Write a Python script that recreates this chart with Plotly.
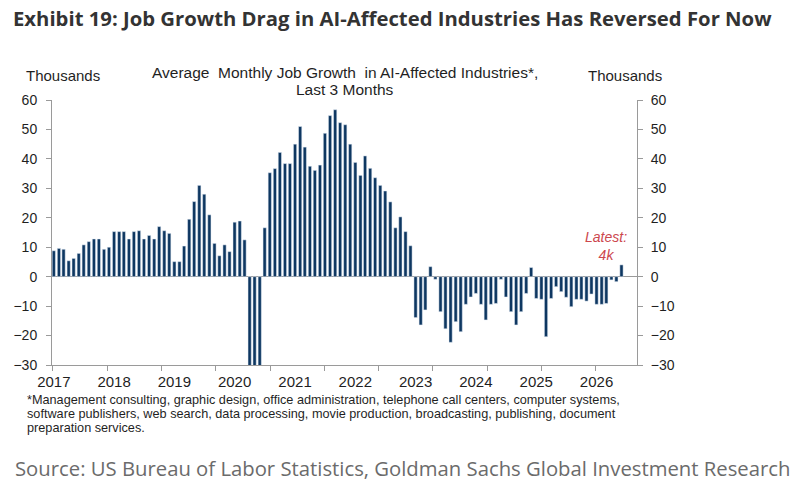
import pandas as pd
import plotly.graph_objects as go

# Average monthly job growth, last 3 months, thousands (Jan 2017 onwards)
job_growth = [
    8.8, 9.6, 9.3, 5.4, 6.2, 7.9, 10.8, 11.9, 12.8, 12.8, 9.3, 10.0,          # 2017
    15.3, 15.3, 15.3, 12.8, 15.3, 15.6, 12.8, 14.0, 12.8, 17.0, 15.6, 14.7,   # 2018
    5.1, 5.1, 10.4, 19.5, 25.5, 31.0, 28.0, 21.0, 11.3, 7.1, 10.8, 8.5,       # 2019
    18.5, 18.9, 12.5, -95.0, -75.0, -45.0, 16.6, 35.3, 36.7, 42.2, 38.4, 38.4,  # 2020
    45.0, 51.0, 44.0, 37.5, 36.1, 37.9, 48.7, 54.7, 56.7, 52.3, 51.6, 45.0,   # 2021
    38.8, 34.4, 41.0, 36.8, 33.6, 31.0, 29.1, 25.4, 16.6, 20.3, 15.3, 10.5,   # 2022
    -13.9, -16.4, -11.3, 3.4, -0.9, -11.9, -17.7, -22.3, -15.3, -18.7, -9.4, -6.9,  # 2023
    -5.7, -9.4, -14.7, -9.4, -9.1, -0.9, -6.9, -11.9, -16.4, -11.9, -5.7, 3.1,      # 2024
    -7.4, -7.7, -20.4, -7.4, -3.4, -5.1, -7.0, -10.2, -7.7, -7.7, -8.3, -5.9,       # 2025
    -9.4, -9.4, -9.1, -1.1, -1.7, 4.0,                                              # 2026
]
months = pd.date_range("2017-01-01", periods=len(job_growth), freq="MS")

year_labels = [str(y) for y in range(2017, 2027)]
year_ticks = [f"{y}-01-01" for y in year_labels]
y_ticks = [-30, -20, -10, 0, 10, 20, 30, 40, 50, 60]

footnote_lines = [
    "*Management consulting, graphic design, office administration, telephone call centers, computer systems,",
    "software publishers, web search, data processing, movie production, broadcasting, publishing, document",
    "preparation services.",
]

BAR = "#0e3761"
AXIS = "#9a9a9a"
TXT = "#1f1f1f"
CHART_FONT = "Liberation Sans"

W, H = 800, 485
# plot area in pixels
L, R, T, B = 52, 637, 100, 365


def px(x):
    return (x - L) / (R - L)


def py(y):
    return (B - y) / (B - T)


fig = go.Figure()

fig.add_trace(go.Bar(
    x=months, y=job_growth,
    marker=dict(color=BAR, line=dict(width=0)),
    hovertemplate="%{x|%b %Y}: %{y:.1f}k<extra></extra>",
    showlegend=False,
))

# invisible copy so the right-hand axis and the extra tick axis render
fig.add_trace(go.Bar(
    x=months, y=job_growth, xaxis="x2", yaxis="y2",
    marker=dict(color="rgba(0,0,0,0)"), hoverinfo="skip", showlegend=False,
))

x_range = ["2016-12-21", "2026-09-03"]
tick_step_ms = 10.8 * 30.44 * 86400000

fig.update_layout(
    width=W, height=H,
    margin=dict(l=L, r=W - R, t=T, b=H - B),
    paper_bgcolor="white", plot_bgcolor="white",
    bargap=0.3,
    font=dict(family=CHART_FONT, size=13, color=TXT),
    xaxis=dict(
        range=x_range, type="date",
        tickvals=year_ticks, ticktext=year_labels,
        ticks="", showgrid=False, zeroline=False,
        showline=True, linecolor=AXIS, linewidth=1,
        ticklabelstandoff=3,
        tickfont=dict(size=15, color=TXT),
    ),
    xaxis2=dict(
        range=x_range, type="date", overlaying="x", side="bottom",
        tick0="2016-12-27", dtick=tick_step_ms,
        ticks="outside", ticklen=5, tickcolor=AXIS,
        showticklabels=False, showgrid=False, zeroline=False, showline=False,
    ),
    yaxis=dict(
        range=[-30, 60], tickvals=y_ticks,
        ticks="outside", ticklen=5, tickcolor=AXIS,
        showgrid=False, showline=True, linecolor=AXIS, linewidth=1,
        zeroline=True, zerolinecolor=AXIS, zerolinewidth=1,
        ticklabelstandoff=6,
        tickfont=dict(size=14, color=TXT),
    ),
    yaxis2=dict(
        range=[-30, 60], tickvals=y_ticks, overlaying="y", side="right",
        ticks="outside", ticklen=5, tickcolor=AXIS,
        showgrid=False, showline=True, linecolor=AXIS, linewidth=1,
        zeroline=False, ticklabelstandoff=5,
        tickfont=dict(size=14, color=TXT),
    ),
    title=dict(
        text="Exhibit 19: Job Growth Drag in AI-Affected Industries Has Reversed For Now",
        x=13 / W, xanchor="left", y=1 - 19 / H, yanchor="middle",
        font=dict(family="Open Sans", size=20.3, color="#333333", weight="bold"),
    ),
)

notes = [
    dict(text="Thousands", x=px(24), y=py(75), xanchor="left", font=dict(size=15)),
    dict(text="Thousands", x=px(586), y=py(75), xanchor="left", font=dict(size=15)),
    dict(text="Average  Monthly Job Growth  in AI-Affected Industries*,",
         x=px(345), y=py(72), xanchor="center", font=dict(size=15.5)),
    dict(text="Last 3 Months", x=px(345), y=py(89), xanchor="center", font=dict(size=15.5)),
    dict(text="Source: US Bureau of Labor Statistics, Goldman Sachs Global Investment Research",
         x=px(13), y=py(468), xanchor="left",
         font=dict(family="Open Sans", size=20.3, color="#6b6b6b")),
]
for i, line in enumerate(footnote_lines):
    notes.append(dict(text=line, x=px(25), y=py(400 + 14 * i), xanchor="left",
                      font=dict(size=12.7)))
for n in notes:
    fig.add_annotation(xref="paper", yref="paper", yanchor="middle", showarrow=False, **n)

fig.add_annotation(
    x=months[-1], y=10.5, xref="x", yref="y", xshift=-15,
    text="<i>Latest:<br>4k</i>", showarrow=False, align="center",
    font=dict(size=14, color="#cc474d"),
)

# drop the default page margin so the figure sits at the window's corner
fig.write_html(
    "out.html",
    config={"displayModeBar": False},
    post_script="document.body.style.margin='0';document.body.style.overflow='hidden';",
)
